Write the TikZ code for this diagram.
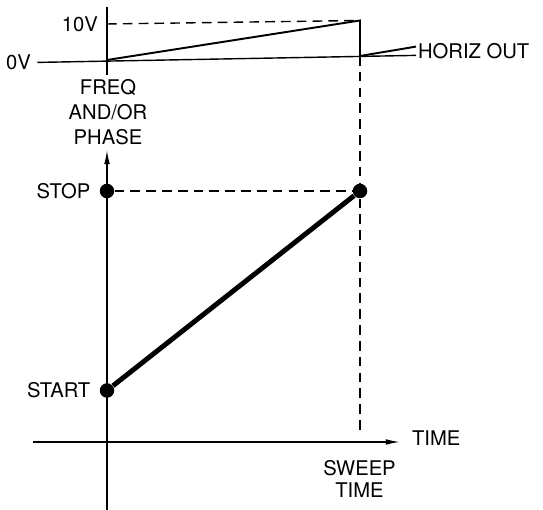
\documentclass[tikz,border=0pt]{standalone}
\usepackage{fontspec}
\setmainfont{TeX Gyre Heros}
\usetikzlibrary{positioning,arrows.meta}
\tikzset{
    axis/.style={draw,line width=0.8pt},
    guide/.style={draw,line width=0.8pt,dash pattern=on 5.5pt off 3.5pt},
    ramp/.style={draw,line width=1.1pt},
    sweepline/.style={draw,line width=2.8pt},
    dot/.style={circle,fill,inner sep=0pt,minimum size=2.9mm},
    lbl/.style={font=\fontsize{11.5}{14.2}\selectfont,inner sep=1pt,align=center},
    tip/.style={-{Latex[length=8pt,width=3.2pt]}},
}

\begin{document}
\begin{tikzpicture}
    \useasboundingbox (0,0) rectangle (10.86,10.2);
    % upper trace: horizontal output
    \coordinate (top) at (2.14,10.06);
    \coordinate (zv) at (2.14,9.0);
    \coordinate (low) at (2.14,8.7);
    \coordinate (ten) at (2.14,9.72);
    \coordinate (peak) at (7.2,9.79);
    \coordinate (fall) at (7.2,9.08);
    \node[lbl,anchor=east] (zero) at (0.66,8.95) {0V};
    \node[lbl,anchor=east] (tenv) at (2.0,9.72) {10V};
    \node[lbl,anchor=west] (hz) at (8.32,9.18) {HORIZ OUT};
    \node[lbl] (freq) at (2.16,7.95) {FREQ\\AND/OR\\PHASE};

    % lower plot: sweep
    \coordinate (ybot) at (2.14,0);
    \coordinate (ytop) at (2.14,7.2);
    \coordinate (xl) at (0.66,1.36);
    \coordinate (xr) at (8.0,1.36);
    \coordinate (foot) at (7.2,1.5);
    \node[dot] (start) at (2.14,2.39) {};
    \node[dot] (stop) at (2.14,6.38) {};
    \node[dot] (end) at (7.2,6.38) {};
    \node[lbl,left=1.4mm of stop] (stoplbl) {STOP};
    \node[lbl,left=1.4mm of start] (startlbl) {START};
    \node[lbl,anchor=west] (time) at (8.2,1.44) {TIME};
    \node[lbl] (swt) at (7.19,0.62) {SWEEP\\[-1.8pt]TIME};

    \path[axis] (top) -- (low);
    \path[axis,shorten <=2.5pt] (zero.east) -- ([yshift=-2.5pt]hz.west);
    \path[guide] (ten) -- (peak);
    \path[ramp] (zv) -- (peak) -- (fall) -- ([yshift=2.5pt]hz.west);
    \path[guide] (fall) -- (end);
    \path[guide] (end) -- (foot);
    \path[guide] (stop) -- (end);
    \path[axis,tip] (ybot) -- (ytop);
    \path[axis,tip] (xl) -- (xr);
    \path[sweepline] (start) -- (end);
\end{tikzpicture}
\end{document}
